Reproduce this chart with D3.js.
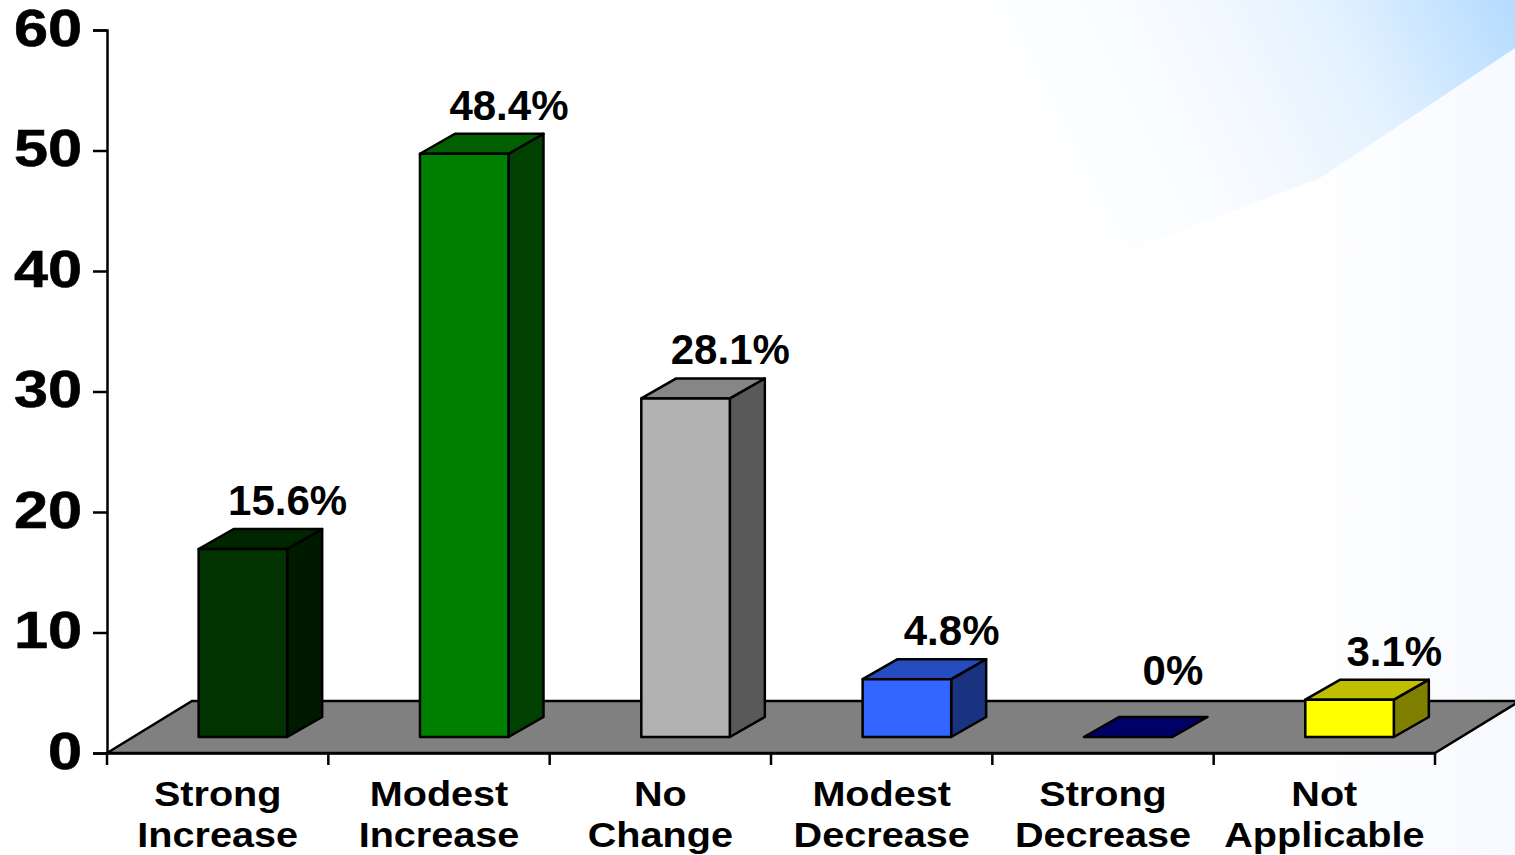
<!DOCTYPE html>
<html>
<head>
<meta charset="utf-8">
<script src="https://cdn.jsdelivr.net/npm/d3@7"></script>
<style>
    html, body { margin: 0; padding: 0; background: #fff; overflow: hidden; }
    text { font-family: "Liberation Sans", Arial, sans-serif; font-weight: bold; fill: #000; }
</style>
</head>
<body>
<div id="chart"></div>
<script>
const categories = ["Strong Increase", "Modest Increase", "No Change", "Modest Decrease", "Strong Decrease", "Not Applicable"];
const values = [15.6, 48.4, 28.1, 4.8, 0, 3.1];
const valueLabels = ["15.6%", "48.4%", "28.1%", "4.8%", "0%", "3.1%"];
const barColors = ["#003300", "#008000", "#b2b2b2", "#3366ff", "#000066", "#ffff00"];
const yTicks = [0, 10, 20, 30, 40, 50, 60];

const width = 1515, height = 855;

const svg = d3.select("#chart").append("svg")
    .attr("width", width)
    .attr("height", height)
    .style("display", "block");

// background wash, top right corner
const defs = svg.append("defs");
const wash = defs.append("linearGradient")
    .attr("id", "wash")
    .attr("gradientUnits", "userSpaceOnUse")
    .attr("x1", 1515).attr("y1", 0)
    .attr("x2", 1000).attr("y2", 260);
wash.append("stop").attr("offset", 0).attr("stop-color", "#b3dbff");
wash.append("stop").attr("offset", 0.3).attr("stop-color", "#e4f2ff");
wash.append("stop").attr("offset", 0.55).attr("stop-color", "#f6faff");
wash.append("stop").attr("offset", 1).attr("stop-color", "#ffffff").attr("stop-opacity", 0);

const edge = defs.append("linearGradient")
    .attr("id", "edgeWash")
    .attr("x1", 0).attr("x2", 1).attr("y1", 0).attr("y2", 0);
edge.append("stop").attr("offset", 0).attr("stop-color", "#ffffff");
edge.append("stop").attr("offset", 1).attr("stop-color", "#f6f9ff");

svg.append("rect")
    .attr("x", 1300).attr("y", 0)
    .attr("width", 215).attr("height", height)
    .attr("fill", "url(#edgeWash)");

svg.append("path")
    .attr("d", "M530,0 L1515,0 L1515,48 L1320,178 L1000,300 L700,150 Z")
    .attr("fill", "url(#wash)");

// scales
const x = d3.scaleBand().domain(categories).range([107, 1435]);
const y = d3.scaleLinear().domain([0, 60]).range([753, 30]);

const baseY = 737;              // front bottom edge of the bars
const depthX = 35, depthY = 20; // bar depth
const floorX = 85, floorY = 52; // floor depth

const barLeft = d => x(d) + x.step() * 0.414;
const barWidth = x.step() * 0.4;
const barHeight = v => y(0) - y(v);

// floor
svg.append("polygon")
    .attr("points", [
        [x.range()[0], y(0)],
        [x.range()[0] + floorX, y(0) - floorY],
        [x.range()[1] + floorX, y(0) - floorY],
        [x.range()[1], y(0)]
    ].join(" "))
    .attr("fill", "#808080")
    .attr("stroke", "#000")
    .attr("stroke-width", 2.5);

// axes
const yAxis = d3.axisLeft(y).tickValues(yTicks).tickSize(14).tickPadding(12);
const xAxis = d3.axisBottom(x).tickSize(0).tickFormat("");

const yG = svg.append("g").attr("transform", "translate(107,0)").call(yAxis);
const xG = svg.append("g").attr("transform", `translate(0,${y(0)})`).call(xAxis);

svg.selectAll(".domain").attr("stroke", "#000").attr("stroke-width", 2.5);
yG.selectAll(".tick line").attr("stroke", "#000").attr("stroke-width", 2.5);

// y labels are stretched sideways in the original
yG.selectAll(".tick text")
    .attr("font-size", 51)
    .attr("font-family", null)
    .attr("x", -25 / 1.2)
    .attr("dy", "0.3em")
    .attr("stroke", "#000")
    .attr("stroke-width", 0.6)
    .attr("transform", "scale(1.2,1)");

// category ticks sit between the bands
const xEdges = categories.map(d => x(d)).concat(x.range()[1]);
svg.append("g").selectAll("line")
    .data(xEdges)
    .join("line")
    .attr("x1", d => d).attr("x2", d => d)
    .attr("y1", y(0)).attr("y2", y(0) + 12)
    .attr("stroke", "#000")
    .attr("stroke-width", 2.5);

// category labels, two lines each
const catLabels = svg.append("g").selectAll("text")
    .data(categories)
    .join("text")
    .attr("transform", d => `translate(${x(d) + x.bandwidth() / 2},0) scale(1.1,1)`)
    .attr("text-anchor", "middle")
    .attr("font-size", 36);

catLabels.selectAll("tspan")
    .data(d => d.split(" "))
    .join("tspan")
    .attr("x", 0)
    .attr("y", (d, i) => 806 + i * 41.5)
    .text(d => d);

// bars
const bars = svg.append("g").selectAll("g")
    .data(categories.map((c, i) => ({cat: c, value: values[i], label: valueLabels[i], color: barColors[i]})))
    .join("g")
    .attr("stroke", "#000")
    .attr("stroke-width", 2.5)
    .attr("stroke-linejoin", "round");

const shade = (color, k) => {
    const c = d3.rgb(color);
    return d3.rgb(c.r * k, c.g * k, c.b * k).formatHex();
};

// side face
bars.filter(d => d.value > 0).append("polygon")
    .attr("points", d => {
        const r = barLeft(d.cat) + barWidth, t = baseY - barHeight(d.value);
        return [[r, baseY], [r + depthX, baseY - depthY], [r + depthX, t - depthY], [r, t]].join(" ");
    })
    .attr("fill", d => shade(d.color, 0.5));

// top face
bars.append("polygon")
    .attr("points", d => {
        const l = barLeft(d.cat), t = baseY - barHeight(d.value);
        return [[l, t], [l + depthX, t - depthY], [l + barWidth + depthX, t - depthY], [l + barWidth, t]].join(" ");
    })
    .attr("fill", d => d.value > 0 ? shade(d.color, 0.75) : d.color);

// front face
bars.filter(d => d.value > 0).append("rect")
    .attr("x", d => barLeft(d.cat))
    .attr("y", d => baseY - barHeight(d.value))
    .attr("width", barWidth)
    .attr("height", d => barHeight(d.value))
    .attr("fill", d => d.color);

// value labels
svg.append("g").selectAll("text")
    .data(categories)
    .join("text")
    .attr("x", d => barLeft(d) + 89)
    .attr("y", (d, i) => Math.min(baseY - barHeight(values[i]) - depthY - 14, 685))
    .attr("text-anchor", "middle")
    .attr("font-size", 42)
    .text((d, i) => valueLabels[i]);
</script>
</body>
</html>
